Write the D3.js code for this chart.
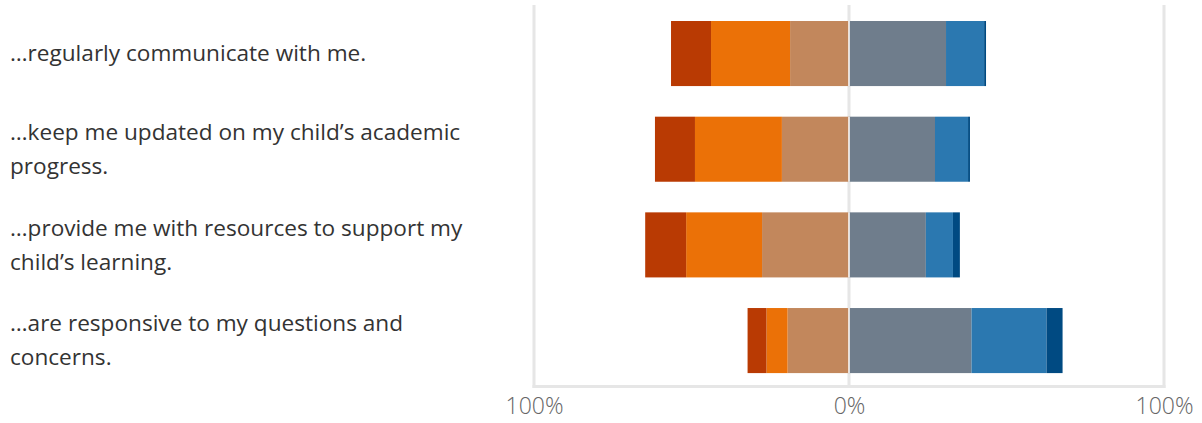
<!DOCTYPE html>
<html>
<head>
<meta charset="utf-8">
<script src="https://cdn.jsdelivr.net/npm/d3@7"></script>
<style>
  html, body { margin: 0; padding: 0; background: #fff; }
  svg { display: block; }
</style>
</head>
<body>
<svg id="chart" width="1202" height="423"></svg>
<script>
// Survey statements (rows, top to bottom)
const categories = [
  "…regularly communicate with me.",
  "…keep me updated on my child’s academic progress.",
  "…provide me with resources to support my child’s learning.",
  "…are responsive to my questions and concerns."
];

// Response shares in percent, per statement
const stronglyDisagree = [12.7, 12.7, 13.0, 6.0];
const disagree         = [25.1, 27.6, 24.1, 6.7];
const somewhatDisagree = [18.7, 21.3, 27.6, 19.5];
const somewhatAgree    = [30.8, 27.3, 24.4, 38.9];
const agree            = [12.1, 10.5, 8.6, 23.8];
const stronglyAgree    = [0.6, 0.6, 2.2, 5.1];

const tickValues = [-100, 0, 100];
const tickLabels = ["100%", "0%", "100%"];

// Negative responses stack leftwards from 0, positive ones rightwards
const negativeSeries = [
  { key: "Somewhat disagree", values: somewhatDisagree, color: "#c2875c" },
  { key: "Disagree",          values: disagree,         color: "#eb7107" },
  { key: "Strongly disagree", values: stronglyDisagree, color: "#b93a03" }
];
const positiveSeries = [
  { key: "Somewhat agree", values: somewhatAgree, color: "#6f7d8c" },
  { key: "Agree",          values: agree,         color: "#2b78b0" },
  { key: "Strongly agree", values: stronglyAgree, color: "#004a82" }
];

const svg = d3.select("#chart");
const x = d3.scaleLinear().domain([-100, 100]).range([534, 1164]);
const y = d3.scaleBand().domain(categories).range([5.7, 388.4])
  .paddingInner(0.32).paddingOuter(0.16);

const gridColor = "#e6e6e6";

// Vertical gridlines
svg.append("g").selectAll("line").data(tickValues).join("line")
  .attr("x1", d => x(d)).attr("x2", d => x(d))
  .attr("y1", 5).attr("y2", 388)
  .attr("stroke", gridColor).attr("stroke-width", 3);

// Baseline
svg.append("line")
  .attr("x1", x(-100) - 1.5).attr("x2", x(100) + 1.5)
  .attr("y1", 386.5).attr("y2", 386.5)
  .attr("stroke", gridColor).attr("stroke-width", 3);

// Build segment rectangles
const segments = [];
categories.forEach((c, i) => {
  let acc = 0;
  negativeSeries.forEach(s => {
    const v = s.values[i];
    segments.push({ cat: c, x0: -(acc + v), x1: -acc, color: s.color });
    acc += v;
  });
  acc = 0;
  positiveSeries.forEach(s => {
    const v = s.values[i];
    segments.push({ cat: c, x0: acc, x1: acc + v, color: s.color });
    acc += v;
  });
});

svg.append("g").selectAll("rect").data(segments).join("rect")
  .attr("x", d => x(d.x0))
  .attr("width", d => x(d.x1) - x(d.x0))
  .attr("y", d => y(d.cat))
  .attr("height", y.bandwidth())
  .attr("fill", d => d.color);

// Thin white divider at 0 across each bar
svg.append("g").selectAll("line").data(categories).join("line")
  .attr("x1", x(0)).attr("x2", x(0))
  .attr("y1", d => y(d)).attr("y2", d => y(d) + y.bandwidth())
  .attr("stroke", "#fff").attr("stroke-width", 1.5);

// Axis tick labels
const axis = d3.axisBottom(x).tickValues(tickValues)
  .tickFormat((d, i) => tickLabels[i]).tickSize(0).tickPadding(0);
const axisG = svg.append("g").attr("transform", "translate(0,398)").call(axis);
axisG.select(".domain").remove();
axisG.selectAll("text")
  .attr("dy", "0.71em")
  .attr("fill", "#666")
  .style("font-family", "'Open Sans', 'Noto Sans', sans-serif")
  .style("font-weight", 300)
  .style("font-size", "23px");

// Category labels, wrapped to the label column width
const labelFont = "'Open Sans', 'Noto Sans', sans-serif";
const labelSize = 22.6;
const lineHeight = 34;
const maxWidth = 475;

const labels = svg.append("g").selectAll("text").data(categories).join("text")
  .attr("x", 10)
  .attr("fill", "#333")
  .style("font-family", labelFont)
  .style("font-size", labelSize + "px");

labels.each(function(d) {
  const t = d3.select(this);
  const words = d.split(" ");
  const lines = [];
  let line = [];
  const probe = t.append("tspan");
  words.forEach(w => {
    const test = line.concat(w).join(" ");
    probe.text(test);
    if (probe.node().getComputedTextLength() > maxWidth && line.length) {
      lines.push(line.join(" "));
      line = [w];
    } else {
      line.push(w);
    }
  });
  lines.push(line.join(" "));
  probe.remove();
  const cy = y(d) + y.bandwidth() / 2;
  const top = cy - (lines.length - 1) * lineHeight / 2;
  lines.forEach((l, k) => {
    t.append("tspan").attr("x", 10)
      .attr("y", top + k * lineHeight)
      .attr("dy", "0.35em")
      .text(l);
  });
});
</script>
</body>
</html>
